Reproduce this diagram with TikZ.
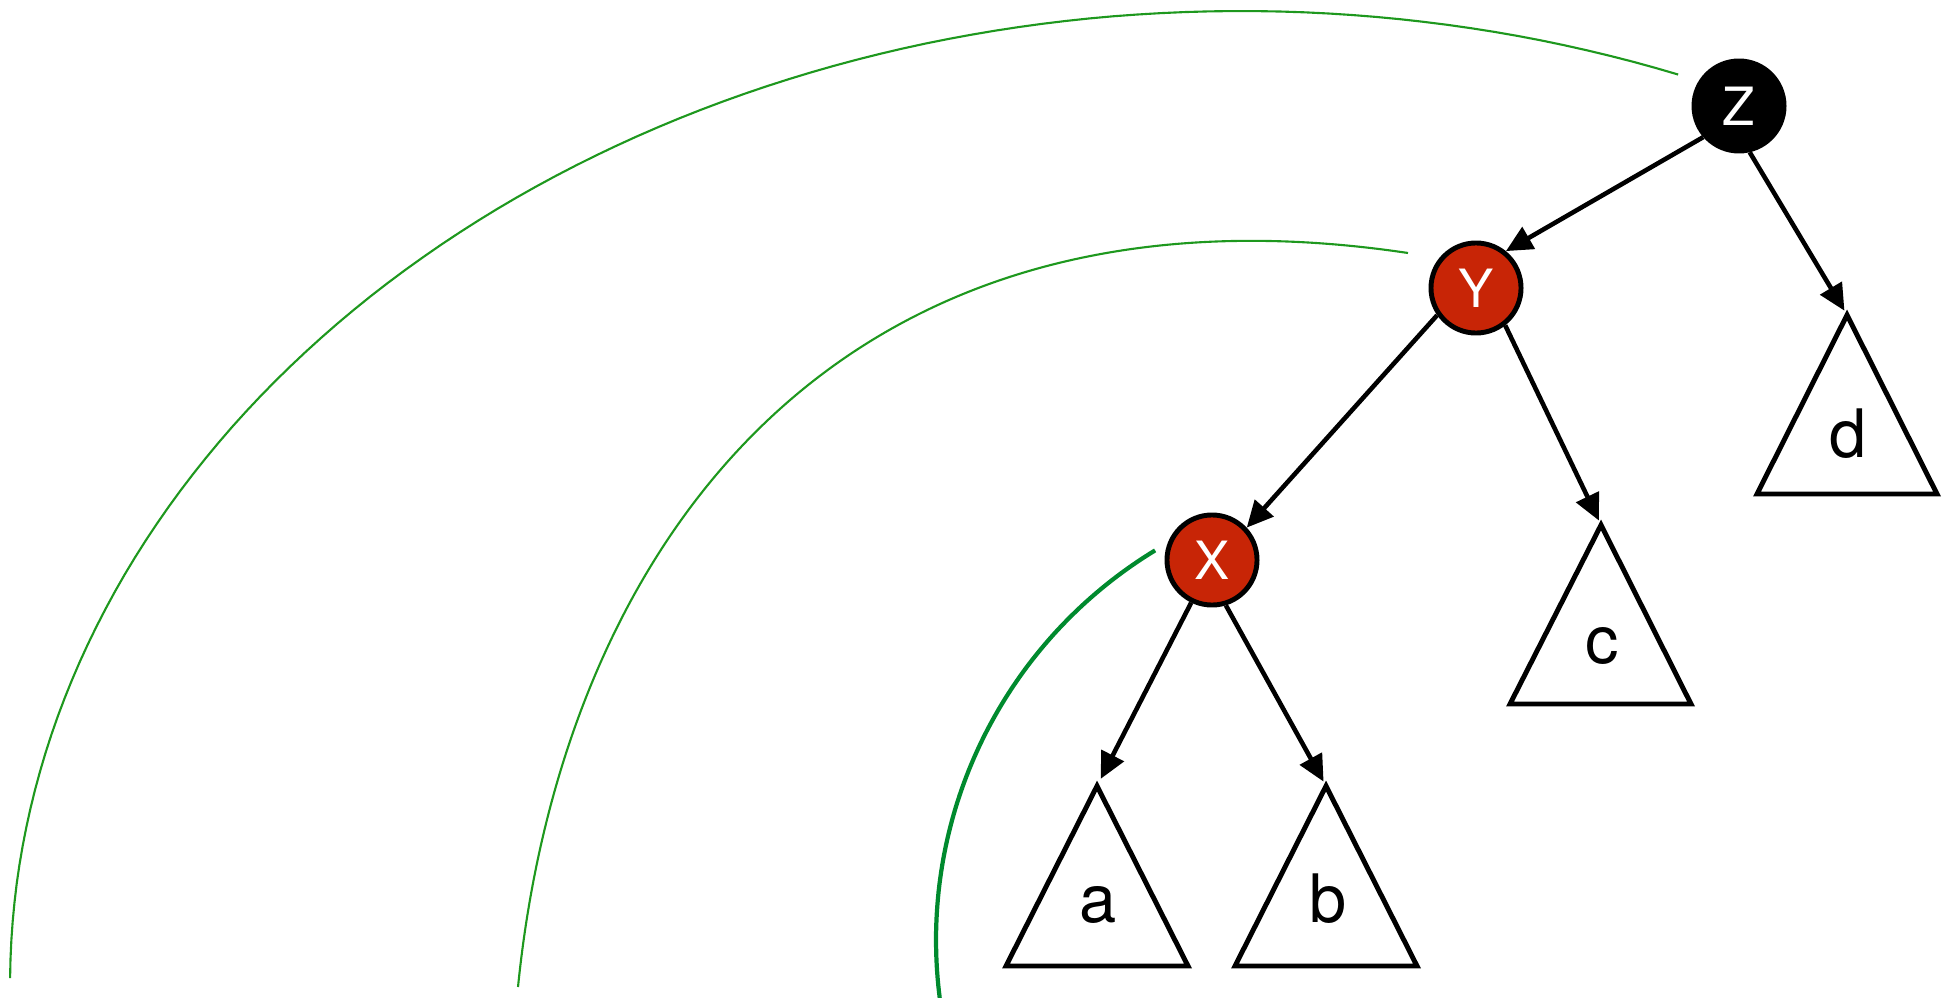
\documentclass[tikz,border=0pt]{standalone}
\usepackage{fontspec}
\setmainfont{TeX Gyre Heros}
\usetikzlibrary{arrows.meta}
\definecolor{nodered}{RGB}{200,37,6}
\definecolor{arcgreen}{RGB}{30,152,30}
\definecolor{arcdark}{RGB}{0,138,46}
\begin{document}
\begin{tikzpicture}[x=0.01cm,y=-0.01cm,
  rbnode/.style={circle,draw=black,line width=1.4pt,minimum size=0.9cm,inner sep=0pt,
    font=\fontsize{15}{18}\selectfont,text=white},
  rednode/.style={rbnode,fill=nodered},
  blacknode/.style={rbnode,fill=black},
  edge/.style={line width=1.3pt,-{Triangle[length=7.5pt,width=7pt]}},
  subtree/.style={draw=black,line width=1.4pt,fill=white,line join=miter},
  sublabel/.style={font=\fontsize{19}{22}\selectfont,anchor=base,inner sep=0pt},
  thinarc/.style={draw=arcgreen,line width=0.6pt},
  thickarc/.style={draw=arcdark,line width=1.2pt}]
\useasboundingbox (0,0) rectangle (1946,997);

% green arcs
\draw[thinarc] plot[domain=69.2:179.6,samples=100] ({1241+1231*cos(\x)},{985-974*sin(\x)});
\draw[thinarc] (1408,253) .. controls (833,167) and (562,550) .. (518,987);
\draw[thickarc] plot[domain=121.3:187.3,samples=80] ({1392+456*cos(\x)},{940-456*sin(\x)});

% nodes
\node[blacknode] (Z) at (1739,106) {Z};
\node[rednode] (Y) at (1476,288) {Y};
\node[rednode] (X) at (1212,560) {X};

% subtrees
\draw[subtree] (1097,786) coordinate (aTop) -- (1006,966) -- (1188,966) -- cycle;
\node[sublabel] (a) at (1098,922) {a};
\draw[subtree] (1326,786) coordinate (bTop) -- (1235,966) -- (1417,966) -- cycle;
\node[sublabel] (b) at (1328,922) {b};
\draw[subtree] (1601,525) coordinate (cTop) -- (1510,704) -- (1691,704) -- cycle;
\node[sublabel] (c) at (1602,663) {c};
\draw[subtree] (1847,315) coordinate (dTop) -- (1757,494) -- (1937,494) -- cycle;
\node[sublabel] (d) at (1848,457) {d};

% edges
\draw[edge] (Z.221) -- (Y.51);
\draw[edge] (Y.215) -- (X.43);
\draw[edge,shorten >=0.05cm] (Y.308) -- (cTop);
\draw[edge,shorten >=0.05cm] (Z.283) -- (dTop);
\draw[edge,shorten >=0.08cm] (X.244) -- (aTop);
\draw[edge,shorten >=0.05cm] (X.287) -- (bTop);
\end{tikzpicture}
\end{document}
